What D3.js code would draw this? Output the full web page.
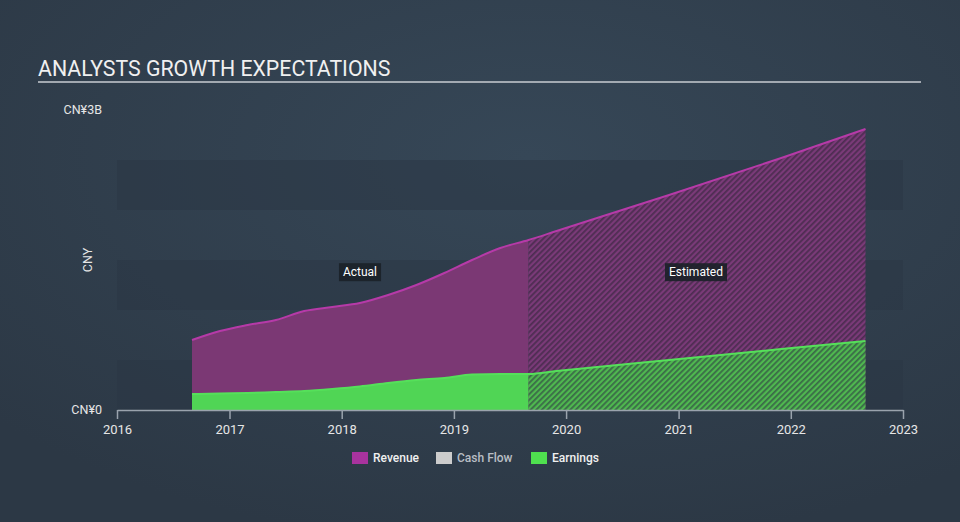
<!DOCTYPE html>
<html><head><meta charset="utf-8">
<script src="https://cdn.jsdelivr.net/npm/d3@7"></script>
<style>
html,body{margin:0;padding:0;background:#313f4e;}
svg{display:block;font-family:Roboto,"Noto Sans",sans-serif;}
</style></head>
<body>
<svg id="chart" width="960" height="522"></svg>
<script>
const revenueDates = ["2016-09","2016-12","2017-03","2017-06","2017-09","2017-12","2018-03","2018-06","2018-09","2018-12","2019-03","2019-06","2019-09","2019-12","2020-12","2021-12","2022-09"];
const revenueValues = [0.70,0.79,0.85,0.90,0.99,1.03,1.07,1.15,1.25,1.37,1.50,1.62,1.70,1.79,2.15,2.52,2.81];
const earningsDates = ["2016-09","2016-12","2017-03","2017-06","2017-09","2017-12","2018-03","2018-06","2018-09","2018-12","2019-03","2019-06","2019-09","2019-12","2020-12","2021-12","2022-09"];
const earningsValues = [0.16,0.165,0.17,0.18,0.19,0.21,0.235,0.27,0.30,0.32,0.355,0.36,0.36,0.39,0.50,0.61,0.69];
const splitDate = "2019-09";
const xTickYears = [2016,2017,2018,2019,2020,2021,2022,2023];
const yTickLabels = ["CN¥0","CN¥3B"];
const yTickValues = [0,3];
const legendItems = ["Revenue","Cash Flow","Earnings"];
const legendColors = ["#a8339e","#cccccc","#4fe04f"];

const svg = d3.select("#chart");
const W = 960, H = 522;
const parse = d3.timeParse("%Y-%m");

const defs = svg.append("defs");
const bg = defs.append("radialGradient").attr("id","bg").attr("cx","55%").attr("cy","30%").attr("r","75%");
bg.append("stop").attr("offset","0%").attr("stop-color","#364757");
bg.append("stop").attr("offset","100%").attr("stop-color","#2c3845");
svg.append("rect").attr("width",W).attr("height",H).attr("fill","url(#bg)");

const x = d3.scaleTime().domain([new Date(2016,0,1), new Date(2023,0,1)]).range([117,903]);
const y = d3.scaleLinear().domain([0,3]).range([410,110]);

// bands
const bandStarts = [0,1,2];
svg.append("g").selectAll("rect").data(bandStarts).join("rect")
  .attr("x",117).attr("width",903-117)
  .attr("y",d=>y(d+0.5)).attr("height",d=>y(d)-y(d+0.5))
  .attr("fill","#2a3644").attr("opacity",0.5);

// title
svg.append("text").attr("x",38).attr("y",76).attr("fill","#f0f0f0")
  .attr("font-size",21.3).text("ANALYSTS GROWTH EXPECTATIONS");
svg.append("line").attr("x1",38).attr("x2",921).attr("y1",82).attr("y2",82)
  .attr("stroke","#c9cdd2").attr("stroke-width",1.5);

// patterns
function hatch(id, base, stripe){
  const p = defs.append("pattern").attr("id",id).attr("patternUnits","userSpaceOnUse")
    .attr("width",4).attr("height",4).attr("patternTransform","rotate(45)");
  p.append("rect").attr("width",4).attr("height",4).attr("fill",base);
  p.append("rect").attr("width",1.8).attr("height",4).attr("fill",stripe);
}
hatch("hRev","#7a3a78","#4e2d52");
hatch("hEarn","#4fb84f","#3b6b48");

const revData = revenueDates.map((d,i)=>({date:parse(d), v:revenueValues[i]}));
const earnData = earningsDates.map((d,i)=>({date:parse(d), v:earningsValues[i]}));
const split = x(parse(splitDate));

defs.append("clipPath").attr("id","cA").append("rect").attr("x",0).attr("y",0).attr("width",split).attr("height",H);
defs.append("clipPath").attr("id","cE").append("rect").attr("x",split).attr("y",0).attr("width",W-split).attr("height",H);

const area = d3.area().x(d=>x(d.date)).y0(y(0)).y1(d=>y(d.v)).curve(d3.curveMonotoneX);
const line = d3.line().x(d=>x(d.date)).y(d=>y(d.v)).curve(d3.curveMonotoneX);

function series(data, fill, pat, stroke){
  svg.append("path").datum(data).attr("d",area).attr("fill",fill).attr("clip-path","url(#cA)");
  svg.append("path").datum(data).attr("d",area).attr("fill",`url(#${pat})`).attr("clip-path","url(#cE)");
  svg.append("path").datum(data).attr("d",line).attr("fill","none").attr("stroke",stroke).attr("stroke-width",2);
}
series(revData,"#7b3874","hRev","#b63aa8");
series(earnData,"#50d555","hEarn","#55e05a");

// axis
const xAxis = d3.axisBottom(x).tickValues(xTickYears.map(yy=>new Date(yy,0,1)))
  .tickFormat(d3.timeFormat("%Y")).tickSize(9).tickSizeOuter(0);
const gx = svg.append("g").attr("transform",`translate(0,${y(0)})`).call(xAxis);
gx.select(".domain").attr("stroke","#9aa3ad").attr("stroke-width",1.5);
gx.selectAll(".tick line").attr("stroke","#9aa3ad").attr("stroke-width",1.5);
gx.selectAll(".tick text").attr("fill","#e6e6e6").attr("font-size",13).attr("font-family","Roboto,sans-serif").attr("dy","0.9em");

// y labels
svg.append("g").selectAll("text").data(yTickValues).join("text")
  .attr("x",102).attr("y",d=>y(d)).attr("dy","0.35em").attr("text-anchor","end")
  .attr("fill","#e6e6e6").attr("font-size",12.5).text((d,i)=>yTickLabels[i]);
svg.append("text").attr("transform",`translate(92,${y(1.5)}) rotate(-90)`).attr("text-anchor","middle")
  .attr("fill","#e6e6e6").attr("font-size",12.5).text("CNY");

// Actual / Estimated labels
function tag(cx, txt){
  const t = svg.append("text").attr("x",cx).attr("y",y(1.38)).attr("dy","0.35em").attr("text-anchor","middle")
    .attr("fill","#ffffff").attr("font-size",12).text(txt);
  const b = t.node().getBBox();
  svg.insert("rect", () => t.node()).attr("x",b.x-4).attr("y",b.y-2).attr("width",b.width+8).attr("height",b.height+4)
    .attr("fill","#1b2128").attr("opacity",0.9);
}
tag(360,"Actual");
tag(696,"Estimated");

// legend
const legX = [352,436,531];
const lg = svg.append("g");
legendItems.forEach((name,i)=>{
  lg.append("rect").attr("x",legX[i]).attr("y",452).attr("width",16).attr("height",12).attr("fill",legendColors[i]);
  lg.append("text").attr("x",legX[i]+21).attr("y",458).attr("dy","0.35em").attr("font-size",12)
    .attr("fill", name==="Cash Flow" ? "#b9bec4" : "#f0f0f0").attr("font-weight","500").text(name);
});
</script>
</body></html>
